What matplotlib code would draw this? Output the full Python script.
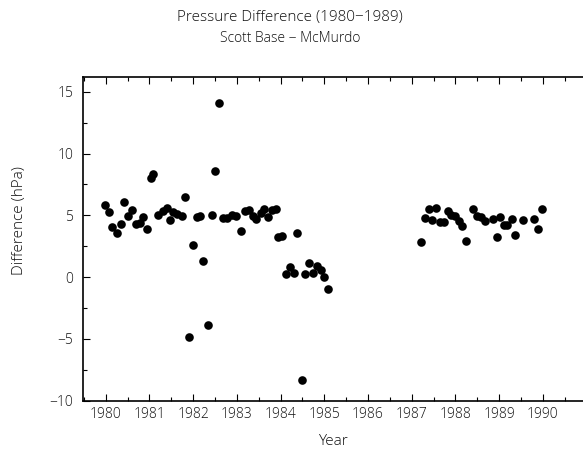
import matplotlib
matplotlib.use("Agg")
import matplotlib.pyplot as plt
from matplotlib.ticker import MultipleLocator

# Monthly pressure differences, Scott Base minus McMurdo (hPa)
years_a = [1979.98, 1980.08, 1980.14, 1980.25, 1980.35, 1980.42, 1980.52, 1980.61,
           1980.69, 1980.78, 1980.86, 1980.95, 1981.03, 1981.09, 1981.20, 1981.30,
           1981.40, 1981.46, 1981.55, 1981.64, 1981.74, 1981.81, 1981.90, 1981.99,
           1982.08, 1982.16, 1982.23, 1982.33, 1982.42, 1982.49, 1982.58, 1982.68,
           1982.77, 1982.88, 1982.98, 1983.10, 1983.18, 1983.28, 1983.38, 1983.44,
           1983.55, 1983.62, 1983.71, 1983.80, 1983.90, 1983.95, 1984.04, 1984.13,
           1984.22, 1984.31, 1984.38, 1984.49, 1984.56, 1984.65, 1984.74, 1984.83,
           1984.92, 1985.00, 1985.08]
diff_a = [5.83, 5.24, 4.06, 3.60, 4.27, 6.05, 4.92, 5.40,
          4.33, 4.38, 4.86, 3.85, 8.00, 8.36, 5.02, 5.32,
          5.62, 4.65, 5.27, 5.14, 4.92, 6.50, -4.86, 2.60,
          4.86, 4.94, 1.31, -3.85, 5.02, 8.57, 14.10, 4.76,
          4.81, 5.00, 4.92, 3.73, 5.35, 5.46, 4.92, 4.70,
          5.19, 5.50, 4.86, 5.40, 5.50, 3.25, 3.36, 0.24,
          0.78, 0.35, 3.57, -8.36, 0.24, 1.15, 0.35, 0.89,
          0.56, 0.02, -0.97]

years_b = [1987.22, 1987.31, 1987.39, 1987.47, 1987.56, 1987.64, 1987.73, 1987.82,
           1987.91, 1987.99, 1988.08, 1988.15, 1988.24, 1988.41, 1988.50, 1988.58,
           1988.67, 1988.86, 1988.95, 1989.02, 1989.11, 1989.19, 1989.30, 1989.37,
           1989.54, 1989.80, 1989.89, 1989.98]
diff_b = [2.80, 4.78, 5.48, 4.65, 5.59, 4.46, 4.46, 5.32,
          5.00, 4.94, 4.52, 4.14, 2.93, 5.54, 4.94, 4.90,
          4.57, 4.68, 3.25, 4.84, 4.19, 4.25, 4.68, 3.44,
          4.62, 4.73, 3.87, 5.54]

year_ticks = list(range(1980, 1991))
diff_ticks = [-10, -5, 0, 5, 10, 15]

plt.rcParams['font.family'] = ['Open Sans', 'DejaVu Sans']
plt.rcParams['font.weight'] = 300
plt.rcParams['axes.labelweight'] = 300
text_color = '#111111'

fig = plt.figure(figsize=(5.83, 4.49), dpi=100)
ax = fig.add_axes([0.1424, 0.108, 0.8576, 0.7205])

ax.plot(years_a + years_b, diff_a + diff_b, linestyle='none', marker='o',
        markersize=6.2, color='black', markeredgewidth=0)

ax.set_xlim(1979.48, 1990.92)
ax.set_ylim(-10, 16.2)
ax.set_xticks(year_ticks)
ax.set_xticklabels([str(y) for y in year_ticks])
ax.set_yticks(diff_ticks)
ax.set_yticklabels([str(v).replace('-', '\u2212') for v in diff_ticks])
ax.xaxis.set_minor_locator(MultipleLocator(0.5))
ax.yaxis.set_minor_locator(MultipleLocator(2.5))

ax.tick_params(which='both', direction='in', top=True, right=False,
               colors='black', labelcolor=text_color, labelsize=10, width=0.8)
ax.tick_params(which='major', length=5)
ax.tick_params(which='minor', length=3)
ax.tick_params(axis='x', pad=5)
ax.tick_params(axis='y', pad=7)

for side in ('left', 'bottom', 'top'):
    ax.spines[side].set_linewidth(1.2)
ax.spines['right'].set_visible(False)

ax.set_xlabel('Year', fontsize=11, color=text_color, labelpad=8)
ax.set_ylabel('Difference (hPa)', fontsize=11, color=text_color)
ax.yaxis.set_label_coords(-0.112, 0.555)

fig.text(0.497, 0.962, 'Pressure Difference (1980\u22121989)', ha='center', va='center',
         fontsize=11, color=text_color)
fig.text(0.497, 0.915, 'Scott Base \u2212 McMurdo', ha='center', va='center',
         fontsize=10, color=text_color)

fig.savefig('out.png', dpi=100)
